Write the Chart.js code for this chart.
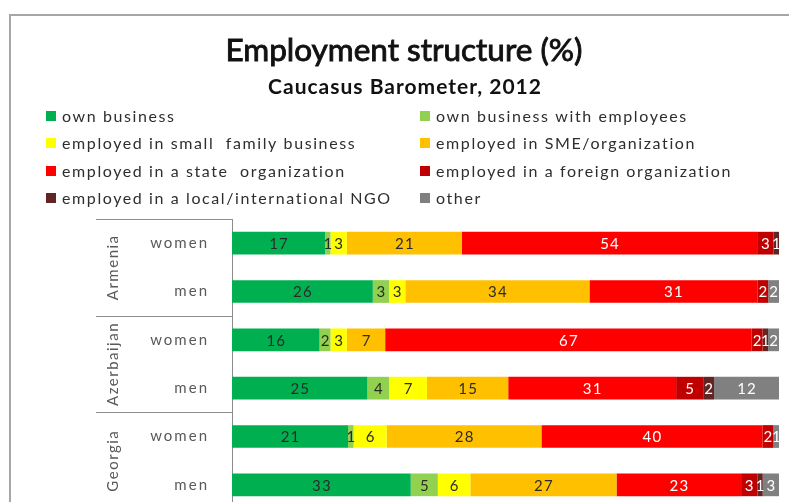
<!DOCTYPE html>
<html>
<head>
<meta charset="utf-8">
<title>Employment structure (%)</title>
<script src="https://cdn.jsdelivr.net/npm/chart.js@4/dist/chart.umd.min.js"></script>
<style>
  html, body { margin: 0; padding: 0; background: #fff; overflow: hidden; }
  canvas { display: block; }
</style>
</head>
<body>
<canvas id="employment" width="789" height="541"></canvas>
<script>
// rows, top to bottom: two rows per country
const rowLabels = ['women', 'men', 'women', 'men', 'women', 'men'];
const countries = ['Armenia', 'Azerbaijan', 'Georgia'];

// shares in %, one value per row
const ownBusiness      = [17, 26, 16, 25, 21, 33];
const ownWithEmployees = [1, 3, 2, 4, 1, 5];
const smallFamily      = [3, 3, 3, 7, 6, 6];
const smeOrganization  = [21, 34, 7, 15, 28, 27];
const stateOrg         = [54, 31, 67, 31, 40, 23];
const foreignOrg       = [3, 2, 2, 5, 2, 3];
const ngo              = [1, 0, 1, 2, 0, 1];
const other            = [0, 2, 2, 12, 1, 3];

const seriesNames = [
  'own business', 'own business with employees',
  'employed in small  family business', 'employed in SME/organization',
  'employed in a state  organization', 'employed in a foreign organization',
  'employed in a local/international NGO', 'other'
];
const seriesValues = [ownBusiness, ownWithEmployees, smallFamily, smeOrganization,
  stateOrg, foreignOrg, ngo, other];
const seriesColors = ['#00b050', '#92d050', '#ffff00', '#ffc000',
  '#ff0000', '#c00000', '#632523', '#808080'];
const labelColors = ['#2b2b2b', '#2b2b2b', '#2b2b2b', '#2b2b2b',
  '#ffffff', '#ffffff', '#ffffff', '#ffffff'];

const FONT = 'Lato, "Open Sans", sans-serif';

// each row is a 100% stacked bar
const rowTotals = rowLabels.map((_, i) => seriesValues.reduce((s, v) => s + v[i], 0));

const datasets = seriesNames.map((name, k) => ({
  label: name,
  raw: seriesValues[k],
  data: seriesValues[k].map((v, i) => v / rowTotals[i] * 100),
  backgroundColor: seriesColors[k],
  borderWidth: 0,
  barPercentage: 0.47,
  categoryPercentage: 1
}));

const decorations = {
  id: 'decorations',
  beforeDraw(chart) {
    const ctx = chart.ctx;
    ctx.save();
    // frame, only top and left edges fall inside the canvas
    ctx.strokeStyle = '#a6a6a6';
    ctx.lineWidth = 2;
    ctx.beginPath();
    ctx.moveTo(10, 600);
    ctx.lineTo(10, 15);
    ctx.lineTo(800, 15);
    ctx.stroke();

    // title + subtitle
    ctx.fillStyle = '#111';
    ctx.strokeStyle = '#111';
    ctx.textAlign = 'center';
    ctx.textBaseline = 'middle';
    ctx.font = '31.5px ' + FONT;
    ctx.lineWidth = 0.9;
    ctx.fillText('Employment structure (%)', 404, 51);
    ctx.strokeText('Employment structure (%)', 404, 51);
    ctx.font = 'bold 21px ' + FONT;
    ctx.letterSpacing = '1px';
    ctx.fillText('Caucasus Barometer, 2012', 405, 87);

    // two-column legend
    ctx.textAlign = 'left';
    ctx.font = '16px ' + FONT;
    ctx.letterSpacing = '1.6px';
    const colX = [46, 420];
    const rowY = [116, 143, 171, 198];
    chart.data.datasets.forEach((ds, k) => {
      const x = colX[k % 2];
      const y = rowY[Math.floor(k / 2)];
      ctx.fillStyle = ds.backgroundColor;
      ctx.fillRect(x, y - 5, 10, 10);
      ctx.fillStyle = '#2e2e2e';
      ctx.fillText(ds.label, x + 16, y + 1);
    });
    ctx.restore();
    chart.ctx.letterSpacing = '2px';
  },
  afterDraw(chart) {
    const ctx = chart.ctx;
    const area = chart.chartArea;
    ctx.save();
    ctx.strokeStyle = '#8c8c8c';
    ctx.lineWidth = 1;
    ctx.fillStyle = '#595959';
    ctx.font = '15px ' + FONT;
    ctx.letterSpacing = '1.5px';
    ctx.textAlign = 'center';
    ctx.textBaseline = 'middle';
    const step = (area.bottom - area.top) / rowLabels.length;
    countries.forEach((name, g) => {
      const top = area.top + g * 2 * step;
      ctx.beginPath();
      ctx.moveTo(96, Math.round(top) + 0.5);
      ctx.lineTo(area.left, Math.round(top) + 0.5);
      ctx.stroke();
      ctx.save();
      ctx.translate(113, top + step);
      ctx.rotate(-Math.PI / 2);
      ctx.fillText(name, 0, 0);
      ctx.restore();
    });
    ctx.restore();
  }
};

const valueLabels = {
  id: 'valueLabels',
  afterDatasetsDraw(chart) {
    const ctx = chart.ctx;
    ctx.save();
    ctx.font = '15px ' + FONT;
    ctx.letterSpacing = '1.2px';
    ctx.textAlign = 'center';
    ctx.textBaseline = 'middle';
    chart.data.datasets.forEach((ds, k) => {
      const meta = chart.getDatasetMeta(k);
      meta.data.forEach((bar, i) => {
        const v = ds.raw[i];
        if (!v) return;
        ctx.fillStyle = labelColors[k];
        ctx.fillText(String(v), (bar.x + bar.base) / 2 + 0.6, bar.y + 1);
      });
    });
    ctx.restore();
  }
};

new Chart(document.getElementById('employment').getContext('2d'), {
  type: 'bar',
  data: { labels: rowLabels, datasets: datasets },
  options: {
    indexAxis: 'y',
    responsive: false,
    animation: false,
    layout: { padding: { top: 219, right: 10, bottom: 0, left: 0 } },
    plugins: {
      legend: { display: false },
      title: { display: false },
      tooltip: { enabled: false }
    },
    scales: {
      x: { stacked: true, min: 0, max: 100, display: false },
      y: {
        stacked: true,
        afterFit(axis) { axis.width = 232; },
        grid: { display: false, drawTicks: false },
        border: { display: true, color: '#8c8c8c', width: 1 },
        ticks: { color: '#595959', padding: 23, font: { family: FONT, size: 15 } }
      }
    }
  },
  plugins: [decorations, valueLabels]
});
</script>
</body>
</html>
